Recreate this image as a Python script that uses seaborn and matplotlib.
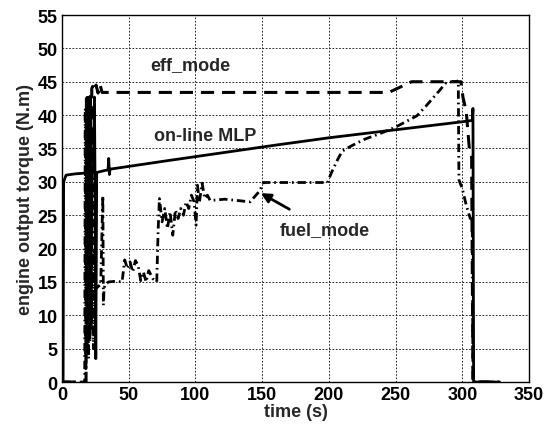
import numpy as np
import pandas as pd
import matplotlib
matplotlib.use("Agg")
import matplotlib.pyplot as plt
import seaborn as sns

# ---- series: engine output torque (N.m) vs time (s) ----
mlp_t = [0, 0.8, 1.2, 3, 10, 23.5, 24.3, 24.8, 25.3, 26, 30, 34.5, 35, 35.5, 36,
         80, 160, 200, 250, 300, 307.5, 308, 308.5, 328]
mlp_y = [0, 0, 30, 31.0, 31.2, 31.4, 42.7, 28, 3.5, 31.4, 31.6, 31.8, 33.5, 31.1, 31.9,
         33.2, 35.5, 36.6, 37.8, 39.0, 39.2, 41, 0, 0]

eff_t = [0, 18, 18.3, 18.8, 19.3, 19.8, 20.3, 20.8, 21.3, 21.8, 22.3, 23, 24, 25.5,
         27, 28.5, 30, 245, 262, 299, 300.5, 303, 305.5, 307, 308, 328]
eff_y = [0, 0, 42.5, 9, 43, 7.5, 42, 10, 43.5, 8, 44, 44.3, 43.6, 44.5,
         43.3, 44.6, 43.4, 43.4, 45, 45, 42.7, 40.5, 34.5, 33.8, 0, 0]

fuel_t = [0, 17, 17.4, 17.9, 18.4, 18.9, 19.4, 19.9, 20.4, 20.9, 21.4, 22, 22.8, 23.5,
          24.5, 25.5, 27, 29, 30.6, 31, 31.5, 32.5, 35, 40, 45,
          47, 49, 51, 53, 55, 57, 59, 61, 63, 65, 68, 71, 72, 73, 75, 77, 79, 81,
          83, 85, 87, 89, 91, 93, 95, 97, 99, 100.5, 101.5, 103, 105, 107, 109, 111,
          122, 141, 148, 151, 199, 202, 207, 210, 217, 227, 238, 250, 266, 273, 283,
          288, 297, 297.5, 300, 303, 306, 307.5, 308, 328]
fuel_y = [0, 0, 41, 2, 42.5, 5, 43, 3.5, 42, 6, 40, 9, 38, 5,
          20, 14, 14.3, 14.6, 27.9, 11.5, 14, 14.7, 15, 15.1, 15,
          18.3, 17, 18, 16.5, 18.2, 17.5, 15.2, 16.5, 15, 16.7, 15.5, 15, 22.5, 27.5, 24, 26, 23, 25.5,
          22, 25.8, 24.5, 26, 25, 27, 26, 28, 27, 23.5, 29.5, 27, 29.8, 27.5, 28, 27.2,
          27.4, 27, 28.6, 29.9, 29.9, 31.4, 33.5, 34.6, 35.4, 36.4, 37.2, 38.2, 39.9, 41.4, 43.7,
          44.9, 45.1, 30.3, 29, 26.5, 24.5, 24.5, 0, 0]

x_ticks = list(range(0, 351, 50))
y_ticks = list(range(0, 56, 5))

sns.set_style("white")
plt.rcParams["font.family"] = ["Liberation Sans", "DejaVu Sans"]
plt.rcParams["font.weight"] = "bold"

fig = plt.figure(figsize=(5.45, 4.27), dpi=100)
ax = fig.add_axes([0.1138, 0.103, 0.8568, 0.8595])

mlp = pd.DataFrame({"t": mlp_t, "torque": mlp_y})
eff = pd.DataFrame({"t": eff_t, "torque": eff_y})
fuel = pd.DataFrame({"t": fuel_t, "torque": fuel_y})

sns.lineplot(data=fuel, x="t", y="torque", ax=ax, sort=False, estimator=None,
             color="black", lw=2.0, linestyle=(0, (3.0, 1.4, 0.6, 1.4)))
sns.lineplot(data=eff, x="t", y="torque", ax=ax, sort=False, estimator=None,
             color="black", lw=2.2, linestyle=(0, (4.3, 2.6)))
sns.lineplot(data=mlp, x="t", y="torque", ax=ax, sort=False, estimator=None,
             color="black", lw=2.0, linestyle="-")

ax.set_xlim(0, 350)
ax.set_ylim(0, 55)
ax.set_xticks(x_ticks)
ax.set_yticks(y_ticks)
ax.tick_params(axis="both", labelsize=13, direction="in", length=3, pad=3,
               colors="black")
for lab in ax.get_xticklabels() + ax.get_yticklabels():
    lab.set_fontweight("bold")
ax.grid(True, color="black", linestyle=(0, (2, 2)), linewidth=0.6)
for s in ax.spines.values():
    s.set_color("black")
    s.set_linewidth(1.0)

ax.set_xlabel("time (s)", fontsize=13, fontweight="bold", labelpad=0)
ax.set_ylabel("engine output torque (N.m)", fontsize=13, fontweight="bold", labelpad=3)

ax.text(96, 47.6, "eff_mode", fontsize=13, fontweight="bold", ha="center", va="center")
ax.text(107, 36.9, "on-line MLP", fontsize=13, fontweight="bold", ha="center", va="center")
ax.annotate("fuel_mode", xy=(149, 28.3), xytext=(197, 22.9), fontsize=13,
            fontweight="bold", ha="center", va="center",
            arrowprops=dict(arrowstyle="-|>", color="black", lw=2,
                            shrinkA=12, shrinkB=0, mutation_scale=14))

fig.savefig("out.png", dpi=100)
